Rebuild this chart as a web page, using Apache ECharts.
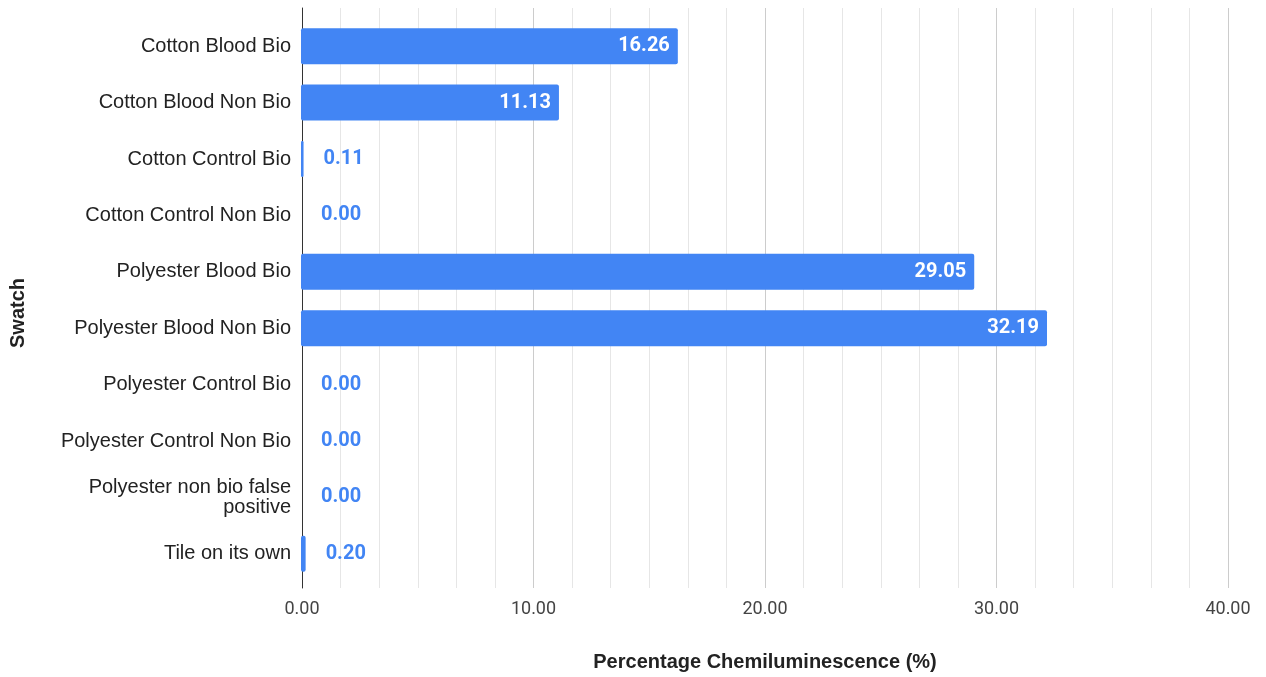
<!DOCTYPE html>
<html>
<head>
<meta charset="utf-8">
<script src="https://cdn.jsdelivr.net/npm/echarts@6/dist/echarts.min.js"></script>
<style>
  html, body { margin: 0; padding: 0; background: #fff; }
  #chart { width: 1266px; height: 677px; }
</style>
</head>
<body>
<div id="chart"></div>
<script>
// Swatch names, top to bottom
const swatches = [
  'Cotton Blood Bio',
  'Cotton Blood Non Bio',
  'Cotton Control Bio',
  'Cotton Control Non Bio',
  'Polyester Blood Bio',
  'Polyester Blood Non Bio',
  'Polyester Control Bio',
  'Polyester Control Non Bio',
  'Polyester non bio false\npositive',
  'Tile on its own'
];

// Percentage chemiluminescence per swatch
const chemiluminescence = [16.26, 11.13, 0.11, 0.00, 29.05, 32.19, 0.00, 0.00, 0.00, 0.20];

const xMin = 0;
const xMax = 40;
const xStep = 10;

const BLUE = '#4285f4';
const SANS = "'Liberation Sans', Arial, sans-serif";

// Long bars carry their value inside in white, short ones outside in blue
const barData = chemiluminescence.map(v => ({
  value: v,
  label: v >= 5
    ? { position: 'insideRight', distance: 8, color: '#ffffff' }
    : { position: 'right', distance: 20, color: BLUE }
}));

const chart = echarts.init(document.getElementById('chart'));

const plotLeft = 301;
const plotRight = 38;

chart.setOption({
  animation: false,
  backgroundColor: '#ffffff',
  grid: [
    // frame: gridlines, value axis labels and the vertical baseline
    { left: plotLeft, right: plotRight, top: 8, bottom: 86, containLabel: false },
    // bars and category labels
    { left: plotLeft, right: plotRight, top: 18, bottom: 95, containLabel: false }
  ],
  xAxis: [
    {
      gridIndex: 0,
      type: 'value',
      min: xMin,
      max: xMax,
      interval: xStep,
      axisLine: { show: false },
      axisTick: { show: false },
      axisLabel: {
        margin: 12,
        color: '#444',
        fontFamily: 'Roboto',
        fontSize: 18,
        formatter: v => v.toFixed(2)
      },
      splitLine: { show: true, lineStyle: { color: '#cccccc', width: 1 } },
      minorTick: { show: false, splitNumber: 6 },
      minorSplitLine: { show: true, lineStyle: { color: '#e6e6e6', width: 1 } },
      name: 'Percentage Chemiluminescence (%)',
      nameLocation: 'middle',
      nameGap: 64,
      nameTextStyle: {
        color: '#222',
        fontFamily: SANS,
        fontWeight: 'bold',
        fontSize: 20
      }
    },
    {
      gridIndex: 1,
      type: 'value',
      min: xMin,
      max: xMax,
      interval: xStep,
      show: false
    }
  ],
  yAxis: [
    {
      gridIndex: 0,
      type: 'value',
      min: 0,
      max: 1,
      axisLine: { show: true, onZero: false, lineStyle: { color: '#333333', width: 1 } },
      axisTick: { show: false },
      axisLabel: { show: false },
      splitLine: { show: false },
      name: 'Swatch',
      nameLocation: 'middle',
      nameRotate: 90,
      nameGap: 274,
      nameTextStyle: {
        color: '#222',
        fontFamily: SANS,
        fontWeight: 'bold',
        fontSize: 20,
        padding: [0, 30, 0, 0]
      }
    },
    {
      gridIndex: 1,
      type: 'category',
      data: swatches,
      inverse: true,
      axisLine: { show: false },
      axisTick: { show: false },
      splitLine: { show: false },
      axisLabel: {
        margin: 10,
        color: '#222',
        fontFamily: SANS,
        fontSize: 20,
        lineHeight: 20,
        align: 'right'
      }
    }
  ],
  series: [
    {
      type: 'bar',
      xAxisIndex: 1,
      yAxisIndex: 1,
      data: barData,
      barWidth: 36,
      itemStyle: { color: BLUE, borderRadius: 2 },
      label: {
        show: true,
        fontFamily: 'Roboto',
        fontWeight: 'bold',
        fontSize: 20,
        formatter: p => p.value.toFixed(2)
      }
    }
  ]
});
</script>
</body>
</html>
